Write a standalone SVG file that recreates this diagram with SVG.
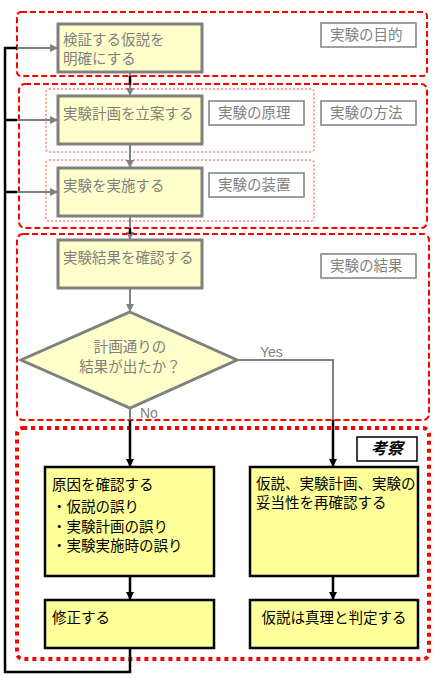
<svg xmlns="http://www.w3.org/2000/svg" width="446" height="693" viewBox="0 0 446 693">
<style>
text{font-family:"Noto Sans CJK JP","Liberation Sans",sans-serif;font-size:14.5px}
.g{fill:#808080}
.k{fill:#000}
.step{fill:#FFFFCC;stroke:#808080;stroke-width:3}
.res{fill:#FFFF99;stroke:#000;stroke-width:2.5}
.lab{fill:#fff;stroke:#808080;stroke-width:1.5}
.dash{fill:none;stroke:#FF0000;stroke-width:2;stroke-dasharray:6 3}
.dot{fill:none;stroke:#FF8080;stroke-width:1.5;stroke-dasharray:2 2}
.thick{fill:none;stroke:#FF0000;stroke-width:4;stroke-dasharray:4 4}
.gl{fill:none;stroke:#808080;stroke-width:2}
.bl{fill:none;stroke:#000;stroke-width:2.5}
</style>
<defs>
<marker id="ag" markerWidth="8" markerHeight="8" refX="7" refY="4" orient="auto" markerUnits="userSpaceOnUse"><path d="M0,0 L8,4 L0,8 Z" fill="#808080"/></marker>
<marker id="ab" markerWidth="8" markerHeight="8" refX="7" refY="4" orient="auto" markerUnits="userSpaceOnUse"><path d="M0,0 L8,4 L0,8 Z" fill="#000"/></marker>
</defs>
<g id="regions">
<rect class="dash" x="17" y="12" width="410" height="64" rx="4"/>
<rect class="dash" x="19" y="84" width="408" height="144" rx="6"/>
<rect class="dot" x="46" y="89" width="268" height="63" rx="3"/>
<rect class="dot" x="46" y="160" width="268" height="61" rx="3"/>
<rect class="dash" x="17" y="234" width="412" height="186" rx="6"/>
<rect class="thick" x="17" y="428" width="412" height="231" rx="6"/>
</g>
<g id="connectors">
<line class="gl" x1="130" y1="72" x2="130" y2="95" marker-end="url(#ag)"/>
<line class="bl" x1="130" y1="76" x2="130" y2="85" stroke-width="2"/>
<line class="gl" x1="130" y1="144" x2="130" y2="167" marker-end="url(#ag)"/>
<line class="gl" x1="130" y1="216" x2="130" y2="239" marker-end="url(#ag)"/>
<line class="bl" x1="130" y1="228" x2="130" y2="234" stroke-width="2"/>
<line class="gl" x1="130" y1="288" x2="130" y2="311" marker-end="url(#ag)"/>
<polyline class="gl" points="130,408 130,421"/>
<line class="bl" x1="130" y1="420" x2="130" y2="466" marker-end="url(#ab)"/>
<polyline class="gl" points="237,360 333,360 333,421"/>
<line class="bl" x1="333" y1="420" x2="333" y2="466" marker-end="url(#ab)"/>
<line class="bl" x1="130" y1="576" x2="130" y2="599" marker-end="url(#ab)"/>
<line class="bl" x1="333" y1="576" x2="333" y2="599" marker-end="url(#ab)"/>
<polyline class="bl" points="130,648 130,672 5,672 5,48 17,48"/>
<line class="bl" x1="5" y1="120" x2="17" y2="120"/>
<line class="bl" x1="5" y1="192" x2="17" y2="192"/>
<line class="gl" x1="17" y1="48" x2="57" y2="48" marker-end="url(#ag)"/>
<line class="gl" x1="17" y1="120" x2="57" y2="120" marker-end="url(#ag)"/>
<line class="gl" x1="17" y1="192" x2="57" y2="192" marker-end="url(#ag)"/>
<text class="g" x="260" y="357" style="font-family:'Liberation Sans',sans-serif;font-size:14px">Yes</text>
<text class="g" x="140" y="418" style="font-family:'Liberation Sans',sans-serif;font-size:14px">No</text>
</g>
<g id="n1"><rect class="step" x="58" y="24" width="144" height="48"/><text class="g" x="63" y="45">検証する仮説を<tspan x="63" y="64">明確にする</tspan></text></g>
<g id="l1"><rect class="lab" x="321" y="23" width="95" height="24"/><text class="g" x="330" y="40">実験の目的</text></g>
<g id="n2"><rect class="step" x="58" y="96" width="144" height="48"/><text class="g" x="63" y="119">実験計画を立案する</text></g>
<g id="l2"><rect class="lab" x="209" y="101" width="95" height="24"/><text class="g" x="218" y="118">実験の原理</text></g>
<g id="l3"><rect class="lab" x="321" y="101" width="95" height="24"/><text class="g" x="330" y="118">実験の方法</text></g>
<g id="n3"><rect class="step" x="58" y="168" width="144" height="48"/><text class="g" x="63" y="191">実験を実施する</text></g>
<g id="l4"><rect class="lab" x="209" y="173" width="95" height="24"/><text class="g" x="218" y="190">実験の装置</text></g>
<g id="n4"><rect class="step" x="58" y="240" width="144" height="48"/><text class="g" x="63" y="263">実験結果を確認する</text></g>
<g id="l5"><rect class="lab" x="321" y="254" width="95" height="24"/><text class="g" x="330" y="271">実験の結果</text></g>
<g id="d1"><polygon class="step" points="130,312 237,360 130,408 21,360"/><text class="g" x="130" y="352" text-anchor="middle">計画通りの<tspan x="130" y="372">結果が出たか？</tspan></text></g>
<g id="l6"><rect fill="#fff" stroke="#000" stroke-width="1.5" x="357" y="437" width="60" height="24"/><text class="k" x="387" y="454" text-anchor="middle" font-weight="bold" font-style="italic" style="font-size:16px">考察</text></g>
<g id="n5"><rect class="res" x="45" y="467" width="169" height="109"/><text class="k" x="52" y="490">原因を確認する<tspan x="52" y="512">・仮説の誤り</tspan><tspan x="52" y="532">・実験計画の誤り</tspan><tspan x="52" y="551">・実験実施時の誤り</tspan></text></g>
<g id="n6"><rect class="res" x="250" y="467" width="168" height="109"/><text class="k" x="256" y="489">仮説、実験計画、実験の<tspan x="256" y="508">妥当性を再確認する</tspan></text></g>
<g id="n7"><rect class="res" x="45" y="600" width="169" height="48"/><text class="k" x="52" y="623">修正する</text></g>
<g id="n8"><rect class="res" x="250" y="600" width="168" height="48"/><text class="k" x="334" y="623" text-anchor="middle">仮説は真理と判定する</text></g>
</svg>
